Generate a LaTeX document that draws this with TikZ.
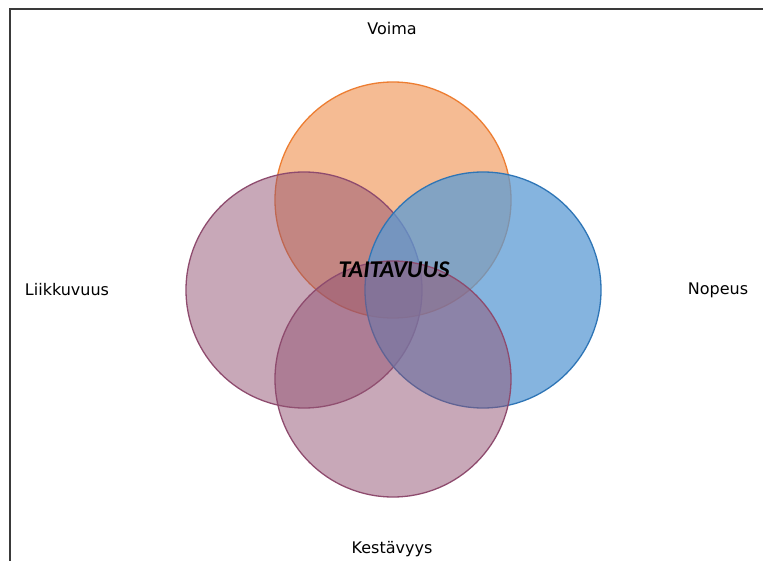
\documentclass[tikz,border=0pt]{standalone}
\usepackage{fontspec}
\setmainfont{DejaVu Sans}
\newfontfamily\carl{Carlito}
\definecolor{orangeF}{HTML}{ED7D31}
\definecolor{blueF}{HTML}{5B9BD5}
\definecolor{blueS}{HTML}{2E75B6}
\definecolor{mauveF}{HTML}{935373}
\definecolor{mauveS}{HTML}{8E4B6E}
\definecolor{frameC}{HTML}{3A3A3A}
\tikzset{
  venn/.style={circle, minimum size=236pt, inner sep=0pt, line width=1.3pt},
  lab/.style={font=\fontsize{16}{19}\selectfont, text=black, inner sep=0pt}
}
\begin{document}
\begin{tikzpicture}[x=1pt,y=-1pt]
\useasboundingbox (0,0) rectangle (763,561);
\fill[white] (0,0) rectangle (763,561);
\draw[frameC, line width=1.5pt] (10,561) -- (10,9) -- (763,9);
\node[venn, draw=orangeF, fill=orangeF, fill opacity=0.52] (top) at (393,200) {};
\node[venn, draw=mauveS, fill=mauveF, fill opacity=0.5] (left) at (304,290) {};
\node[venn, draw=blueS, fill=blueF, fill opacity=0.74] (right) at (483,290) {};
\node[venn, draw=mauveS, fill=mauveF, fill opacity=0.5] (bottom) at (393,379) {};
\node[font=\carl\bfseries\itshape\fontsize{24}{28}\selectfont, inner sep=0pt] (center) at (394,270) {TAITAVUUS};
\node[lab] (voima) at (392,29) {Voima};
\node[lab] (liik) at (67,290) {Liikkuvuus};
\node[lab] (nopeus) at (718,290) {Nopeus};
\node[lab] (kest) at (392,549) {Kestävyys};
\end{tikzpicture}
\end{document}
